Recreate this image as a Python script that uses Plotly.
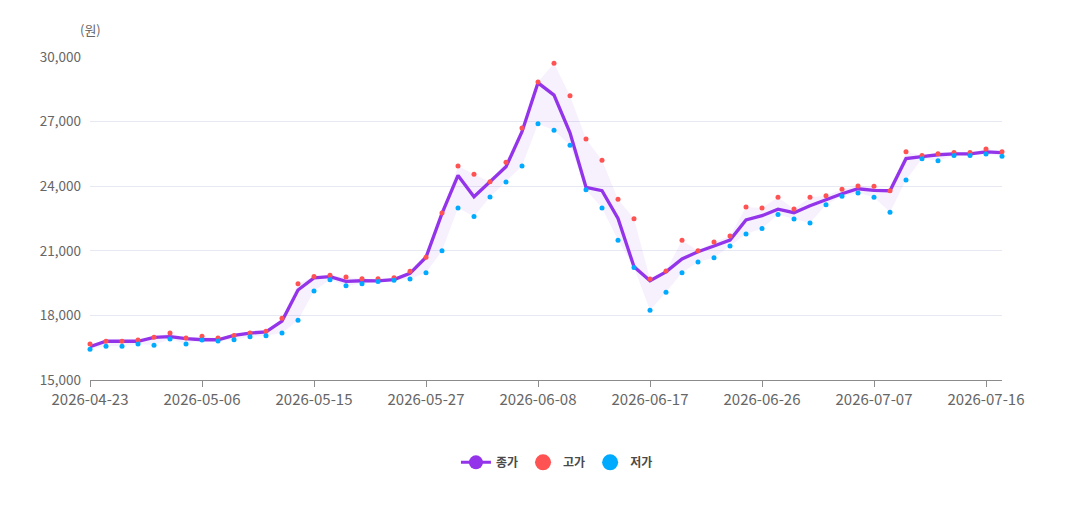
import plotly.graph_objects as go

dates = [
    "2026-04-23", "2026-04-24", "2026-04-27", "2026-04-28", "2026-04-29", "2026-04-30", "2026-05-04",
    "2026-05-06", "2026-05-07", "2026-05-08", "2026-05-11", "2026-05-12", "2026-05-13", "2026-05-14",
    "2026-05-15", "2026-05-18", "2026-05-19", "2026-05-20", "2026-05-21", "2026-05-22", "2026-05-26",
    "2026-05-27", "2026-05-28", "2026-05-29", "2026-06-01", "2026-06-02", "2026-06-04", "2026-06-05",
    "2026-06-08", "2026-06-09", "2026-06-10", "2026-06-11", "2026-06-12", "2026-06-15", "2026-06-16",
    "2026-06-17", "2026-06-18", "2026-06-19", "2026-06-22", "2026-06-23", "2026-06-24", "2026-06-25",
    "2026-06-26", "2026-06-29", "2026-06-30", "2026-07-01", "2026-07-02", "2026-07-03", "2026-07-06",
    "2026-07-07", "2026-07-08", "2026-07-09", "2026-07-10", "2026-07-13", "2026-07-14", "2026-07-15",
    "2026-07-16", "2026-07-17",
]

close = [
    16550, 16800, 16800, 16800, 16980, 17010, 16920,
    16870, 16870, 17070, 17180, 17240, 17740, 19180,
    19740, 19800, 19580, 19610, 19600, 19660, 19950,
    20700, 22740, 24500, 23510, 24210, 24900, 26530,
    28800, 28230, 26480, 23950, 23790, 22500, 20260,
    19610, 20020, 20620, 20960, 21220, 21500, 22430,
    22630, 22930, 22770, 23090, 23390, 23650, 23880,
    23810, 23790, 25280, 25370, 25460, 25500, 25500,
    25590, 25560,
]

high = [
    16670, 16800, 16800, 16860, 16980, 17180, 16950,
    17030, 16950, 17070, 17180, 17260, 17870, 19470,
    19810, 19860, 19780, 19700, 19700, 19750, 20050,
    20700, 22750, 24940, 24550, 24210, 25110, 26700,
    28840, 29710, 28200, 26190, 25200, 23390, 22490,
    19690, 20060, 21490, 21000, 21410, 21690, 23030,
    22990, 23490, 22940, 23490, 23560, 23860, 24010,
    24000, 23790, 25600, 25420, 25510, 25560, 25560,
    25730, 25600,
]

low = [
    16430, 16570, 16570, 16670, 16610, 16900, 16670,
    16860, 16810, 16870, 17010, 17060, 17180, 17770,
    19130, 19660, 19380, 19470, 19580, 19630, 19690,
    19980, 21000, 22990, 22590, 23500, 24200, 24940,
    26900, 26600, 25900, 23840, 22990, 21490, 20230,
    18240, 19070, 19980, 20480, 20680, 21220, 21780,
    22030, 22690, 22480, 22290, 23140, 23530, 23690,
    23490, 22790, 24290, 25280, 25180, 25430, 25430,
    25500, 25390,
]

tick_labels = [
    "2026-04-23", "2026-05-06", "2026-05-15", "2026-05-27", "2026-06-08",
    "2026-06-17", "2026-06-26", "2026-07-07", "2026-07-16",
]

y_ticks = [15000, 18000, 21000, 24000, 27000, 30000]

PURPLE = "#9333ea"
RED = "#ff5252"
BLUE = "#00aaff"
FONT = "Noto Sans CJK KR, Noto Sans, sans-serif"

fig = go.Figure()

# shaded band between high and low
fig.add_trace(go.Scatter(
    x=dates, y=high, mode="lines", line=dict(width=0, color="rgba(0,0,0,0)"),
    showlegend=False, hoverinfo="skip",
))
fig.add_trace(go.Scatter(
    x=dates, y=low, mode="lines", line=dict(width=0, color="rgba(0,0,0,0)"),
    fill="tonexty", fillcolor="rgba(147,51,234,0.07)",
    showlegend=False, hoverinfo="skip",
))

fig.add_trace(go.Scatter(
    x=dates, y=close, mode="lines", line=dict(color=PURPLE, width=3.3),
    showlegend=False, cliponaxis=False, name="종가",
))
fig.add_trace(go.Scatter(
    x=dates, y=high, mode="markers", marker=dict(color=RED, size=5),
    showlegend=False, cliponaxis=False, name="고가",
))
fig.add_trace(go.Scatter(
    x=dates, y=low, mode="markers", marker=dict(color=BLUE, size=5),
    showlegend=False, cliponaxis=False, name="저가",
))

# legend entries
fig.add_trace(go.Scatter(
    x=[None], y=[None], mode="lines+markers", name="종가",
    line=dict(color=PURPLE, width=3), marker=dict(color=PURPLE, size=14),
))
fig.add_trace(go.Scatter(
    x=[None], y=[None], mode="markers", name="고가",
    marker=dict(color=RED, size=16),
))
fig.add_trace(go.Scatter(
    x=[None], y=[None], mode="markers", name="저가",
    marker=dict(color=BLUE, size=16),
))

fig.update_layout(
    width=1090, height=513,
    margin=dict(l=90, r=88, t=57, b=133),
    paper_bgcolor="white", plot_bgcolor="white",
    font=dict(family=FONT, size=13, color="#666666"),
    showlegend=True,
    legend=dict(
        orientation="h", x=0.512, xanchor="center", y=-0.255, yanchor="middle",
        font=dict(size=12, color="#4a4a4a", family=FONT, weight="bold"),
        itemwidth=30, traceorder="normal",
    ),
    annotations=[dict(
        text="(원)", xref="paper", yref="paper", x=0, y=1.085,
        xanchor="center", yanchor="middle", showarrow=False,
        font=dict(size=13, color="#666666", family=FONT),
    )],
)

fig.update_xaxes(
    type="category", categoryorder="array", categoryarray=dates,
    range=[0, len(dates) - 1],
    tickmode="array", tickvals=tick_labels, ticktext=tick_labels,
    showline=True, linecolor="#8c8c8c", linewidth=1,
    ticks="outside", ticklen=6, tickcolor="#8c8c8c",
    showgrid=False, zeroline=False,
    tickfont=dict(size=15, color="#666666"),
)
fig.update_yaxes(
    range=[15000, 30000], tickmode="array", tickvals=y_ticks,
    tickformat=",", showgrid=True, gridcolor="#e6e8f2", gridwidth=1,
    zeroline=False, showline=False, ticks="", ticklabelstandoff=8,
    tickfont=dict(size=13.5, color="#666666"),
)

fig.write_html("out.html")
